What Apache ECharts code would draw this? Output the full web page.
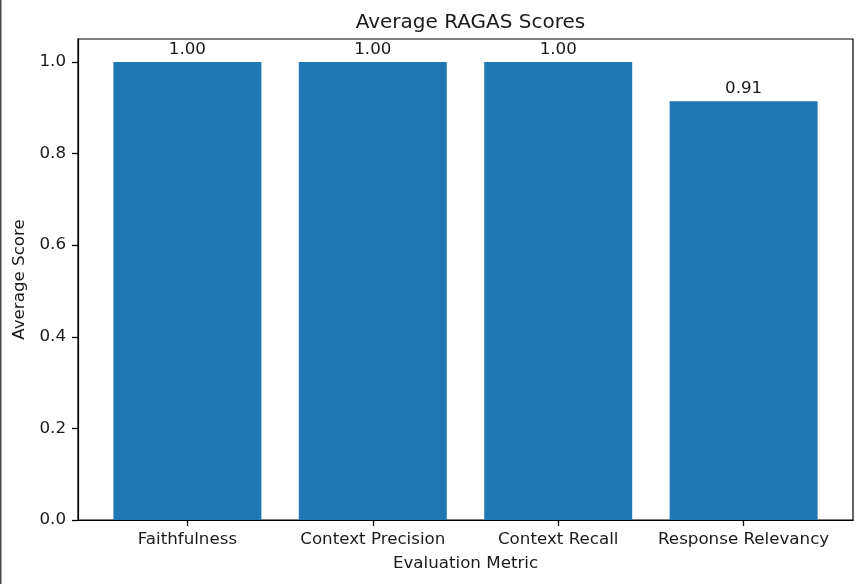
<!DOCTYPE html>
<html>
<head>
<meta charset="utf-8">
<script src="https://cdn.jsdelivr.net/npm/echarts@6/dist/echarts.min.js"></script>
<style>html,body{margin:0;padding:0;background:#fff}#c{width:862px;height:584px}</style>
</head>
<body>
<div id="c"></div>
<script>
var categories = ["Faithfulness", "Context Precision", "Context Recall", "Response Relevancy"];
var scores = [1.0, 1.0, 1.0, 0.914];
var yTicks = [0, 0.2, 0.4, 0.6, 0.8, 1.0];
var xTicks = [0, 1, 2, 3];

var FONT = "DejaVu Sans";
var TXT = "#1a1a1a";
var chart = echarts.init(document.getElementById("c"), null, {renderer: "canvas"});
chart.setOption({
  animation: false,
  backgroundColor: "#fff",
  textStyle: {fontFamily: FONT},
  title: {
    text: "Average RAGAS Scores",
    left: 465.5, textAlign: "center", top: 8,
    textStyle: {fontFamily: FONT, fontSize: 20, fontWeight: "normal", color: TXT}
  },
  grid: {left: 78, top: 39, right: 9, bottom: 64, show: true, borderColor: "#000", borderWidth: 1.2, backgroundColor: "transparent"},
  xAxis: {
    type: "value", min: -0.59, max: 3.59,
    name: "Evaluation Metric", nameLocation: "middle", nameGap: 35,
    nameTextStyle: {fontFamily: FONT, fontSize: 16.7, color: TXT},
    splitLine: {show: false},
    axisLine: {show: true, onZero: false, lineStyle: {color: "#000", width: 1.2}},
    axisTick: {show: true, inside: false, length: 6, lineStyle: {color: "#000", width: 1.3}, customValues: xTicks},
    axisLabel: {customValues: xTicks, margin: 11, fontFamily: FONT, fontSize: 16.7, color: TXT,
      formatter: function (v) { return categories[Math.round(v)]; }}
  },
  yAxis: {
    type: "value", min: 0, max: 1.05, position: "left",
    name: "Average Score", nameLocation: "middle", nameGap: 48, nameRotate: 90,
    nameTextStyle: {fontFamily: FONT, fontSize: 16.7, color: TXT},
    splitLine: {show: false},
    axisLine: {show: true, onZero: false, lineStyle: {color: "#000", width: 1.2}},
    axisTick: {show: true, inside: false, length: 6, lineStyle: {color: "#000", width: 1.3}, customValues: yTicks},
    axisLabel: {customValues: yTicks, margin: 12, fontFamily: FONT, fontSize: 16.7, color: TXT,
      formatter: function (v) { return v.toFixed(1); }}
  },
  series: [{
    type: "bar",
    barWidth: 148,
    itemStyle: {color: "#1f77b4"},
    label: {show: true, position: "top", distance: 4, fontFamily: FONT, fontSize: 16.7, color: TXT,
      formatter: function (p) { return p.value[1].toFixed(2); }},
    data: scores.map(function (v, i) { return [i, v]; })
  }],
  graphic: [{type: "rect", shape: {x: 0, y: 0, width: 1.5, height: 584}, style: {fill: "#444"}, silent: true}]
});
</script>
</body>
</html>
